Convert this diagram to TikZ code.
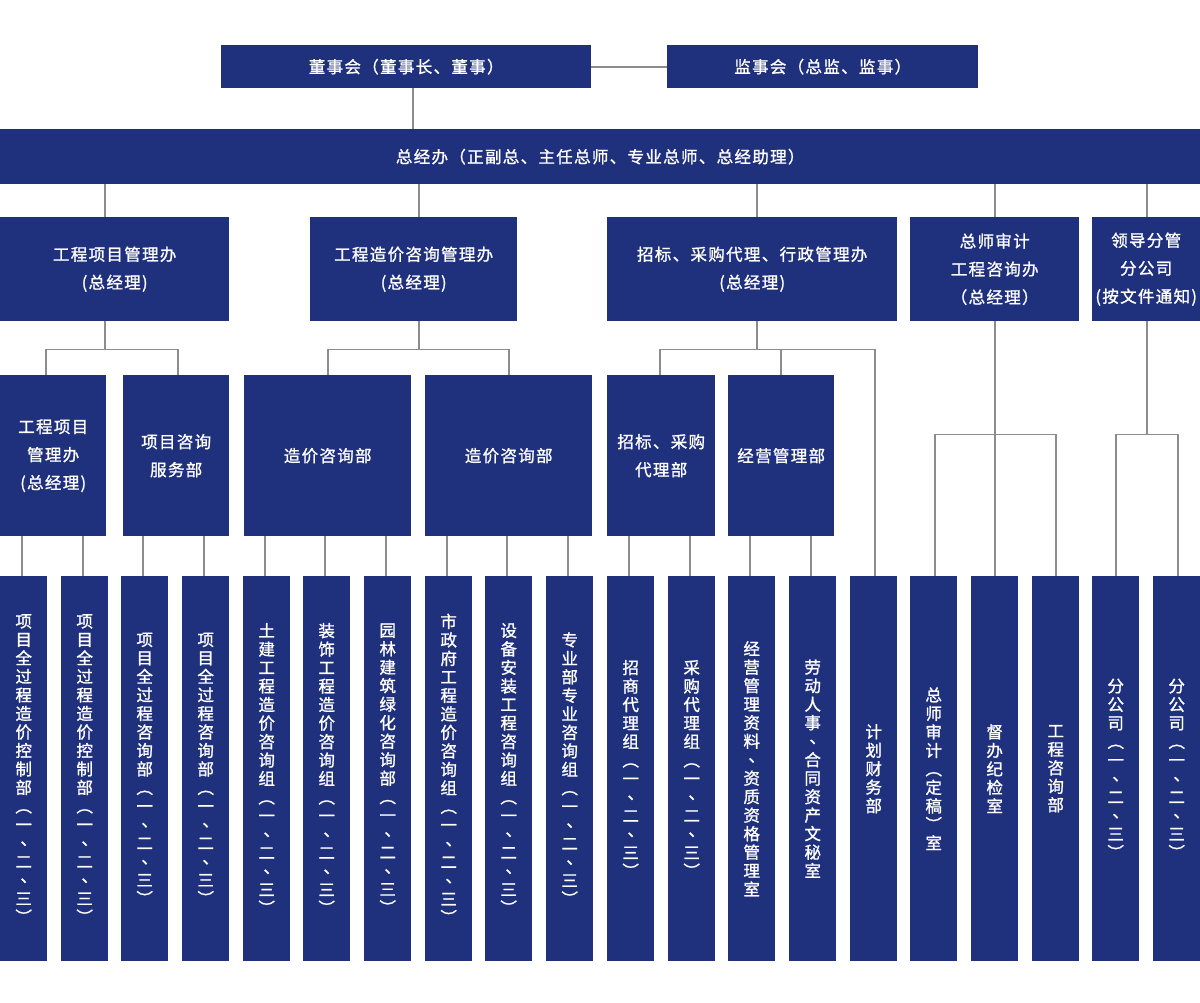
\documentclass[tikz,border=0pt]{standalone}
\usepackage{fontspec}
\newfontfamily\cjk[LetterSpace=8,FakeBold=1.2]{Noto Sans CJK SC}
\newfontfamily\cjkv[FakeBold=1.2]{Noto Sans CJK SC}
\definecolor{navy}{RGB}{31,48,124}
\definecolor{lin}{RGB}{140,140,140}
\newcommand\vd{\makebox[1em][l]{\hspace*{0.3em}\raisebox{0.25em}{、}}}
\ExplSyntaxOn
\seq_new:N \l_vt_seq
\cs_generate_variant:Nn \tl_map_inline:nn {on}
\NewDocumentCommand\vtext{m}{
  \seq_clear:N \l_vt_seq
  \tl_map_inline:on {#1} { \seq_put_right:Nn \l_vt_seq {##1} }
  \seq_use:Nn \l_vt_seq {\\}
}
\ExplSyntaxOff
\tikzset{
  box/.style={fill=navy, text=white, inner sep=0pt, anchor=north west, align=center,
    font=\cjk\fontsize{16.5}{28}\selectfont},
  col/.style={fill=navy, text=white, inner sep=0pt, anchor=north west,
    minimum width=47pt, minimum height=385pt, text width=47pt, align=center,
    font=\cjkv\fontsize{16.5}{18.5}\selectfont},
  conn/.style={draw=lin, line width=1.8pt}
}
\begin{document}
\begin{tikzpicture}[x=1pt,y=-1pt]
\fill[white] (0,0) rectangle (1200,1003);
\useasboundingbox (0,0) rectangle (1200,1003);

% top
\node[box, minimum width=370pt, minimum height=43pt] (dsh) at (221,45) {董事会（董事长、董事）};
\node[box, minimum width=311pt, minimum height=43pt] (jsh) at (667,45) {监事会（总监、监事）};
\node[box, minimum width=1200pt, minimum height=55pt] (zjb) at (0,129) {总经办（正副总、主任总师、专业总师、总经助理）};

% level 2
\node[box, minimum width=229pt, minimum height=104pt] (L2a) at (0,217) {工程项目管理办\\(总经理)};
\node[box, minimum width=207pt, minimum height=104pt] (L2b) at (310,217) {工程造价咨询管理办\\(总经理)};
\node[box, minimum width=290pt, minimum height=104pt] (L2c) at (607,217) {招标、采购代理、行政管理办\\(总经理)};
\node[box, minimum width=169pt, minimum height=104pt, text width=169pt] (L2d) at (910,217) {总师审计\\工程咨询办\\（总经理）};
\node[box, minimum width=108pt, minimum height=104pt, text width=108pt] (L2e) at (1092,217) {领导分管\\分公司\\(按文件通知)};

% level 3
\node[box, minimum width=106pt, minimum height=161pt] (L3a) at (0,375) {工程项目\\管理办\\(总经理)};
\node[box, minimum width=106pt, minimum height=161pt] (L3b) at (123,375) {项目咨询\\服务部};
\node[box, minimum width=167pt, minimum height=161pt] (L3c) at (244,375) {造价咨询部};
\node[box, minimum width=167pt, minimum height=161pt] (L3d) at (425,375) {造价咨询部};
\node[box, minimum width=108pt, minimum height=161pt] (L3e) at (607,375) {招标、采购\\代理部};
\node[box, minimum width=106pt, minimum height=161pt] (L3f) at (728,375) {经营管理部};

% level 4
\foreach \i/\x/\t in {
  0/0/{项目全过程造价控制部︵一\vd 二\vd 三︶},
  1/61/{项目全过程造价控制部︵一\vd 二\vd 三︶},
  2/121/{项目全过程咨询部︵一\vd 二\vd 三︶},
  3/182/{项目全过程咨询部︵一\vd 二\vd 三︶},
  4/243/{土建工程造价咨询组︵一\vd 二\vd 三︶},
  5/303/{装饰工程造价咨询组︵一\vd 二\vd 三︶},
  6/364/{园林建筑绿化咨询部︵一\vd 二\vd 三︶},
  7/425/{市政府工程造价咨询组︵一\vd 二\vd 三︶},
  8/485/{设备安装工程咨询组︵一\vd 二\vd 三︶},
  9/546/{专业部专业咨询组︵一\vd 二\vd 三︶},
  10/607/{招商代理组︵一\vd 二\vd 三︶},
  11/668/{采购代理组︵一\vd 二\vd 三︶},
  12/728/{经营管理资料\vd 资质资格管理室},
  13/789/{劳动人事\vd 合同资产文秘室},
  14/850/{计划财务部},
  15/910/{总师审计︵定稿︶室},
  16/971/{督办纪检室},
  17/1032/{工程咨询部},
  18/1092/{分公司︵一\vd 二\vd 三︶},
  19/1153/{分公司︵一\vd 二\vd 三︶}}
  \node[col] (c\i) at (\x,576) {\vtext{\t}};

% bar junctions (derived from the parent boxes)
\coordinate (barA) at ([xshift=105pt,yshift=-28pt]L2a.south west);
\coordinate (barB) at ([xshift=5.5pt,yshift=-28pt]L2b.south);
\coordinate (barC) at ([xshift=5pt,yshift=-28pt]L2c.south);
\coordinate (barD) at ([yshift=-113pt]L2d.south);
\coordinate (barE) at ([xshift=1pt,yshift=-113pt]L2e.south);

% connectors top
\draw[conn] (dsh.east) -- (jsh.west);
\draw[conn] ([xshift=7pt]dsh.south) -- ([xshift=7pt]dsh.south |- zjb.north);
\draw[conn] ([xshift=105pt]L2a.north west) -- ([xshift=105pt]L2a.north west |- zjb.south);
\draw[conn] ([xshift=5.5pt]L2b.north) -- ([xshift=5.5pt]L2b.north |- zjb.south);
\draw[conn] ([xshift=5pt]L2c.north) -- ([xshift=5pt]L2c.north |- zjb.south);
\draw[conn] (L2d.north) -- (L2d.north |- zjb.south);
\draw[conn] ([xshift=1pt]L2e.north) -- ([xshift=1pt]L2e.north |- zjb.south);

% level 2 to level 3
\draw[conn] ([xshift=105pt]L2a.south west) -- (barA);
\draw[conn] ([xshift=-7pt]L3a.north) |- (barA) -| ([xshift=2pt]L3b.north);
\draw[conn] ([xshift=5.5pt]L2b.south) -- (barB);
\draw[conn] (L3c.north) |- (barB) -| (L3d.north);
\draw[conn] ([xshift=5pt]L2c.south) -- (barC);
\draw[conn] ([xshift=-1pt]L3e.north) |- (barC) -| ([xshift=1.5pt]c14.north);
\draw[conn] (L3f.north) -- (L3f.north |- barC);
\draw[conn] (L2d.south) -- (barD);
\draw[conn] ([xshift=1.5pt]c15.north) |- (barD) -| (c17.north);
\draw[conn] (c16.north -| barD) -- (barD);
\draw[conn] ([xshift=1pt]L2e.south) -- (barE);
\draw[conn] (c18.north) |- (barE) -| ([xshift=1.5pt]c19.north);

% level 3 to level 4
\foreach \p/\c in {L3a/c0,L3a/c1,L3b/c2,L3b/c3,L3c/c4,L3c/c5,L3c/c6,L3d/c7,L3d/c8,L3d/c9,L3e/c10,L3e/c11,L3f/c12,L3f/c13}
  \draw[conn] ([xshift=-2pt]\c.north) -- ([xshift=-2pt]\c.north |- \p.south);
\end{tikzpicture}
\end{document}
